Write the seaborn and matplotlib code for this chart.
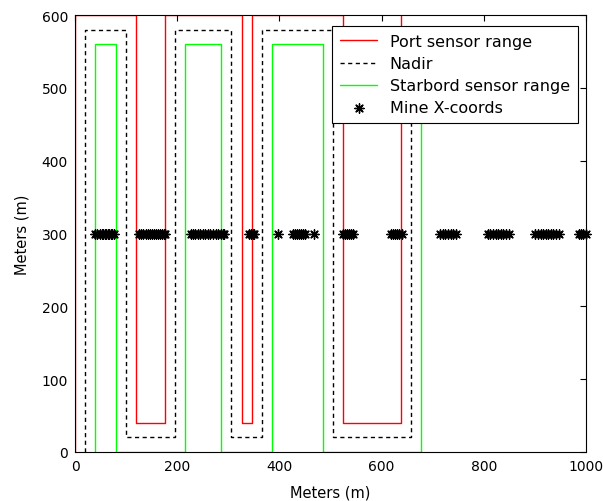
import matplotlib
matplotlib.use("Agg")
import matplotlib.pyplot as plt
import seaborn as sns
import numpy as np
import pandas as pd

# ---- data ----
nadir_x = [20, 100, 196, 306, 366, 505, 658]      # survey track positions (m)
port_x = [0, 120, 176, 326, 346, 525, 638]        # port sensor range edge
starboard_x = [40, 80, 216, 286, 386, 485, 678]   # starboard sensor range edge
nadir_y = [0, 20, 580]        # start, bottom turn, top turn
port_y = [0, 40, 600]
starboard_y = [0, 0, 560]

mine_x = [40, 44, 48, 52, 55, 58, 61, 64, 67, 70, 73, 77,
          126, 130, 134, 138, 142, 146, 150, 154, 158, 162, 166, 170, 174, 176,
          227, 231, 235, 240, 245, 250, 255, 260, 265, 270, 275, 280, 285, 289, 292,
          340, 344, 348, 351,
          398,
          426, 430, 434, 438, 442, 446, 451,
          467,
          525, 529, 533, 537, 541, 545,
          618, 622, 627, 631, 635, 639,
          715, 720, 725, 730, 735, 740, 745,
          808, 813, 818, 823, 828, 833, 838, 843, 849,
          901, 906, 911, 916, 921, 926, 931, 936, 941, 948,
          986, 990, 995, 1000]
mine_y_value = 300

x_ticks = [0, 200, 400, 600, 800, 1000]
y_ticks = [0, 100, 200, 300, 400, 500, 600]


def lawnmower(xs, ys):
    start, low, high = ys
    px, py = [xs[0]], [start]
    for i, x in enumerate(xs):
        if i > 0:
            px.append(x)
            py.append(py[-1])
        nxt = high if i % 2 == 0 else low
        px.append(x)
        py.append(nxt)
    return pd.DataFrame({"x": px, "y": py})


sns.set_style("white")
plt.rcParams["font.family"] = ["DejaVu Sans"]
plt.rcParams["font.size"] = 10
plt.rcParams["text.color"] = "black"
plt.rcParams["axes.labelcolor"] = "black"
plt.rcParams["xtick.color"] = "black"
plt.rcParams["ytick.color"] = "black"

fig = plt.figure(figsize=(6.03, 5.02), dpi=100)
ax = fig.add_axes([75 / 603, 49 / 502, 511 / 603, 437 / 502])

port_df = lawnmower(port_x, port_y)
nadir_df = lawnmower(nadir_x, nadir_y)
star_df = lawnmower(starboard_x, starboard_y)
mine_df = pd.DataFrame({"x": mine_x, "y": [mine_y_value] * len(mine_x)})

sns.lineplot(data=port_df, x="x", y="y", sort=False, estimator=None,
             color="#ff0000", lw=1.0, ax=ax, label="Port sensor range")
sns.lineplot(data=nadir_df, x="x", y="y", sort=False, estimator=None,
             color="black", lw=1.0, linestyle=(0, (3, 2.5)), ax=ax, label="Nadir")
sns.lineplot(data=star_df, x="x", y="y", sort=False, estimator=None,
             color="#00ff00", lw=1.0, ax=ax, label="Starbord sensor range")
sns.scatterplot(data=mine_df, x="x", y="y", marker=(8, 2, 0), s=45,
                color="black", edgecolor="black", linewidth=1.0, ax=ax,
                label="Mine X-coords", clip_on=False, zorder=3)

ax.set_xlim(0, 1000)
ax.set_ylim(0, 600)
ax.set_xticks(x_ticks)
ax.set_yticks(y_ticks)
ax.tick_params(direction="in", length=4, width=0.8, top=True, right=True,
               labelsize=10, pad=5, colors="black")
for sp in ax.spines.values():
    sp.set_visible(True)
    sp.set_color("black")
    sp.set_linewidth(0.8)
ax.set_xlabel("Meters (m)", fontsize=10.5, labelpad=8)
ax.set_ylabel("Meters (m)", fontsize=10.5, labelpad=9)

leg = ax.legend(loc="upper right", bbox_to_anchor=(0.984, 0.975), borderaxespad=0,
                fancybox=False, framealpha=1, edgecolor="black", fontsize=11.5,
                handlelength=2.3, handletextpad=0.8, borderpad=0.5, labelspacing=0.45)
leg.get_frame().set_linewidth(0.8)

fig.savefig("out.png", dpi=100)
